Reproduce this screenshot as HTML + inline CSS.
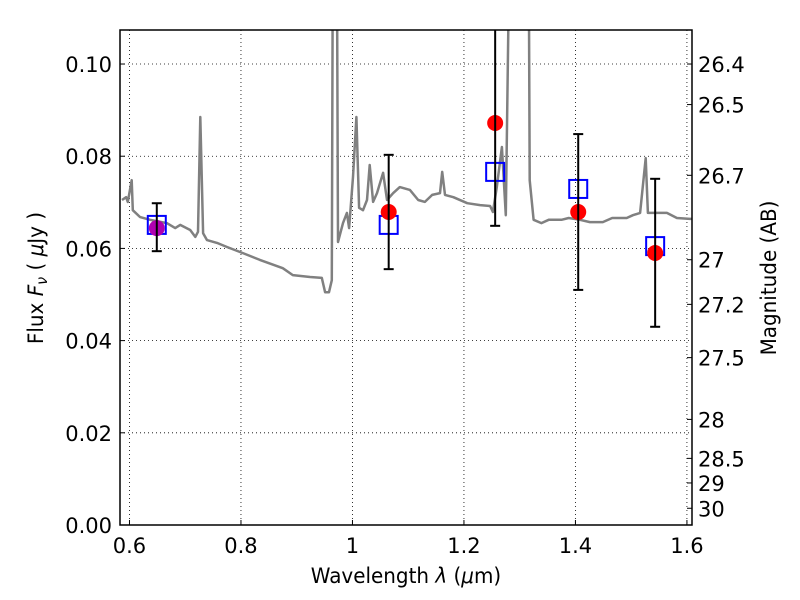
<!DOCTYPE html>
<html><head><meta charset="utf-8"><style>
body{margin:0;background:#fff;}
svg{display:block;font-family:"DejaVu Sans","Liberation Sans",sans-serif;}
</style></head><body>
<svg id="chart" width="800" height="600">
<defs><clipPath id="clip"><rect x="120" y="30" width="572" height="495"/></clipPath></defs>
<rect x="0" y="0" width="800" height="600" fill="#fff"/>
<g id="grid"></g>
<g id="marks" clip-path="url(#clip)"></g>
<rect x="120" y="30" width="572" height="495" fill="none" stroke="#000" stroke-width="1.5"/>
<g id="axes"></g>
<text x="406" y="583" font-size="21" text-anchor="middle" transform="translate(406,0) scale(0.95,1) translate(-406,0)">Wavelength  <tspan font-style="italic">λ</tspan> (<tspan font-style="italic">μ</tspan>m)</text>
<text transform="translate(43,278) rotate(-90) scale(0.95,1)" font-size="21" text-anchor="middle">Flux  <tspan font-style="italic">F<tspan font-size="15" dy="4">ν</tspan></tspan><tspan dy="-4">  ( </tspan><tspan font-style="italic">μ</tspan>Jy )</text>
<text transform="translate(776,278) rotate(-90) scale(0.95,1)" font-size="21" text-anchor="middle">Magnitude (AB)</text>
</svg>
<script>
const specLambda=[0.5865,0.594,0.597,0.604,0.606,0.619,0.637,0.667,0.682,0.691,0.709,0.718,0.723,0.727,0.732,0.739,0.757,0.775,0.803,0.834,0.875,0.893,0.924,0.945,0.951,0.958,0.963,0.965,0.972,0.974,0.983,0.990,0.994,1.001,1.007,1.012,1.019,1.026,1.031,1.037,1.044,1.055,1.062,1.073,1.085,1.103,1.118,1.130,1.143,1.157,1.161,1.166,1.181,1.206,1.229,1.247,1.252,1.259,1.268,1.275,1.282,1.316,1.318,1.325,1.339,1.352,1.375,1.388,1.408,1.426,1.449,1.466,1.492,1.503,1.516,1.526,1.530,1.564,1.582,1.605,1.615];
const specFlux=[0.0705,0.0711,0.0701,0.0748,0.0683,0.0668,0.0662,0.0655,0.0644,0.0651,0.0640,0.0625,0.0636,0.0885,0.0633,0.0618,0.0612,0.0603,0.0590,0.0575,0.0557,0.0542,0.0538,0.0536,0.0505,0.0505,0.0531,0.13,0.13,0.0614,0.0655,0.0677,0.0644,0.0755,0.0885,0.0688,0.0683,0.0705,0.0781,0.0701,0.0720,0.0764,0.0705,0.0720,0.0733,0.0727,0.0705,0.0701,0.0716,0.0720,0.0766,0.0716,0.0711,0.0698,0.0694,0.0692,0.0679,0.0733,0.0820,0.0672,0.13,0.13,0.0748,0.0662,0.0655,0.0662,0.0662,0.0666,0.0662,0.0657,0.0657,0.0666,0.0666,0.0672,0.0677,0.0796,0.0677,0.0677,0.0666,0.0664,0.0664];
const bandLambda=[0.649,1.065,1.256,1.405,1.543];
const modelFlux=[0.0651,0.0651,0.0766,0.0729,0.0605];
const obsFlux=[0.0644,0.0679,0.0872,0.0679,0.0590];
const errLow=[0.0594,0.0555,0.0649,0.0510,0.0430];
const errHigh=[0.0698,0.0803,0.115,0.0848,0.0751];
const xTicks=[0.6,0.8,1.0,1.2,1.4,1.6];
const xTickLabels=["0.6","0.8","1","1.2","1.4","1.6"];
const yTicks=[0,0.02,0.04,0.06,0.08,0.10];
const yTickLabels=["0.00","0.02","0.04","0.06","0.08","0.10"];
const magTicks=[26.4,26.5,26.7,27,27.2,27.5,28,28.5,29,30];
const magTickLabels=["26.4","26.5","26.7","27","27.2","27.5","28","28.5","29","30"];

const NS="http://www.w3.org/2000/svg";
const X0=120,X1=692,Y0=525,Y1=30,XMIN=0.5830,XMAX=1.6091,YMIN=0,YMAX=0.10738;
const sx=v=>X0+(v-XMIN)/(XMAX-XMIN)*(X1-X0);
const sy=v=>Y0-(v-YMIN)/(YMAX-YMIN)*(Y0-Y1);
function mk(tag,attrs,parent){const e=document.createElementNS(NS,tag);for(const k in attrs)e.setAttribute(k,attrs[k]);parent.appendChild(e);return e;}
const grid=document.getElementById('grid'),marks=document.getElementById('marks'),axes=document.getElementById('axes');

xTicks.forEach((t,i)=>{
  const x=sx(t);
  const g=mk('line',{x1:x,x2:x,y1:Y1,y2:Y0,stroke:'#000','stroke-width':0.8,'stroke-dasharray':'1,3'},grid);
  
  
  const tk=mk('line',{x1:x,x2:x,y1:Y0,y2:Y0-5,stroke:'#000'},axes);
  
  
  const tx=mk('text',{x:x,y:553,'font-size':21,'text-anchor':'middle'},axes);
  tx.textContent=xTickLabels[i];
  
  
});
yTicks.forEach((t,i)=>{
  const y=sy(t);
  const g=mk('line',{x1:X0,x2:X1,y1:y,y2:y,stroke:'#000','stroke-width':0.8,'stroke-dasharray':'1,3'},grid);
  
  
  const tk=mk('line',{x1:X0,x2:X0+5,y1:y,y2:y,stroke:'#000'},axes);
  
  
  const tx=mk('text',{x:112,y:y+8,'font-size':21,'text-anchor':'end'},axes);
  tx.textContent=yTickLabels[i];
  
  
});
magTicks.forEach((m,i)=>{
  const f=Math.pow(10,(23.9-m)/2.5);
  const y=sy(f);
  const tk=mk('line',{x1:X1,x2:X1-5,y1:y,y2:y,stroke:'#000'},axes);
  
  
  const tx=mk('text',{x:698,y:y+8,'font-size':21,'text-anchor':'start'},axes);
  tx.textContent=magTickLabels[i];
  
  
});

const pts=specLambda.map((l,i)=>sx(l).toFixed(1)+','+sy(specFlux[i]).toFixed(1)).join(' ');
const sp=mk('polyline',{points:pts,fill:'none',stroke:'#808080','stroke-width':2.5,'stroke-linejoin':'round'},marks);



bandLambda.forEach((l,i)=>{
  const x=sx(l);
  const sq=mk('rect',{x:x-9,y:sy(modelFlux[i])-9,width:18,height:18,fill:'none',stroke:'#0000ff','stroke-width':2},marks);
  
  
  const c=mk('circle',{cx:x,cy:sy(obsFlux[i]),r:8,fill:i===0?'#b000b0':'#ff0000'},marks);
  
  
  const yl=sy(errLow[i]),yh=sy(errHigh[i]);
  const e=mk('line',{x1:x,x2:x,y1:yl,y2:yh,stroke:'#000','stroke-width':2},marks);
  
  
  [yl,yh].forEach(yy=>{
    const cap=mk('line',{x1:x-5,x2:x+5,y1:yy,y2:yy,stroke:'#000','stroke-width':2},marks);
    
    
  });
});
</script>
</body></html>
